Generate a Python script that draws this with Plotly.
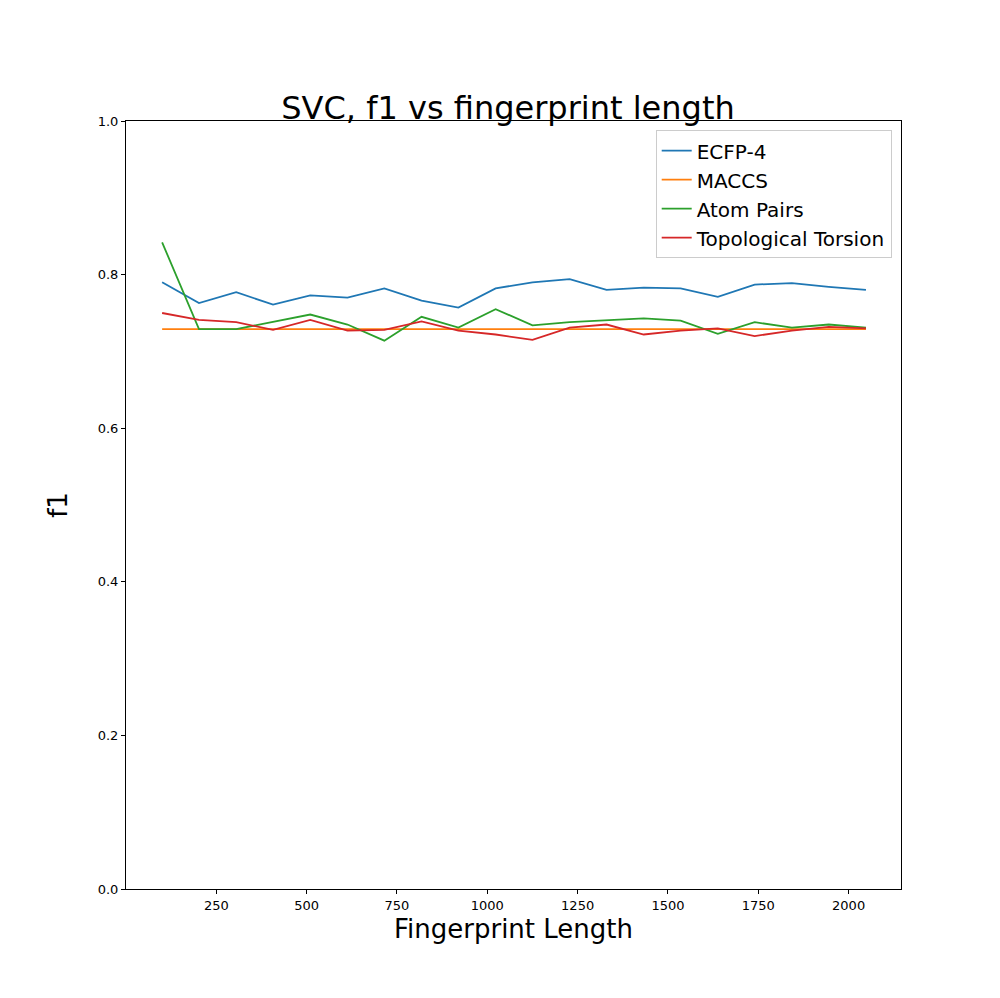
import plotly.graph_objects as go

lengths = [100, 202, 305, 407, 510, 613, 715, 818, 920, 1023,
           1125, 1228, 1330, 1433, 1535, 1638, 1740, 1843, 1945, 2048]
ecfp4 = [0.790, 0.763, 0.777, 0.761, 0.773, 0.770, 0.782, 0.766, 0.757, 0.782,
         0.790, 0.794, 0.780, 0.783, 0.782, 0.771, 0.787, 0.789, 0.784, 0.780]
maccs = [0.729] * 20
atom_pairs = [0.842, 0.729, 0.729, 0.738, 0.748, 0.735, 0.714, 0.745, 0.731, 0.755,
              0.734, 0.738, 0.740, 0.743, 0.740, 0.723, 0.738, 0.731, 0.735, 0.731]
torsion = [0.750, 0.741, 0.738, 0.728, 0.741, 0.727, 0.728, 0.739, 0.727, 0.722,
           0.715, 0.731, 0.735, 0.722, 0.727, 0.730, 0.720, 0.727, 0.732, 0.730]

series = [("ECFP-4", ecfp4, "#1f77b4"), ("MACCS", maccs, "#ff7f0e"),
          ("Atom Pairs", atom_pairs, "#2ca02c"), ("Topological Torsion", torsion, "#d62728")]

fig = go.Figure()
for name, vals, col in series:
    fig.add_trace(go.Scatter(x=lengths, y=vals, mode="lines", name=name,
                             line=dict(color=col, width=1.8)))

axis = dict(showgrid=False, zeroline=False, showline=True, linecolor="black", mirror=True,
            ticks="outside", ticklen=4, tickcolor="black", tickfont=dict(size=13))
fig.update_layout(
    width=1000, height=998,
    font=dict(family="DejaVu Sans", color="black"),
    plot_bgcolor="white", paper_bgcolor="white",
    margin=dict(l=118, r=107, t=113, b=117),
    title=dict(text="SVC, f1 vs fingerprint length", x=0.5, xanchor="center",
               y=0.9, yanchor="middle", font=dict(size=32)),
    xaxis=dict(axis, range=[0, 2145], tickvals=[250, 500, 750, 1000, 1250, 1500, 1750, 2000],
               title=dict(text="Fingerprint Length", font=dict(size=26), standoff=8)),
    yaxis=dict(axis, range=[0, 1], tickvals=[0, 0.2, 0.4, 0.6, 0.8, 1.0], tickformat=".1f",
               title=dict(text="f1", font=dict(size=26), standoff=22)),
    legend=dict(x=0.988, y=0.988, xanchor="right", yanchor="top", bordercolor="#cccccc",
                borderwidth=1, font=dict(size=20), bgcolor="white"),
)
fig.write_html("out.html")
